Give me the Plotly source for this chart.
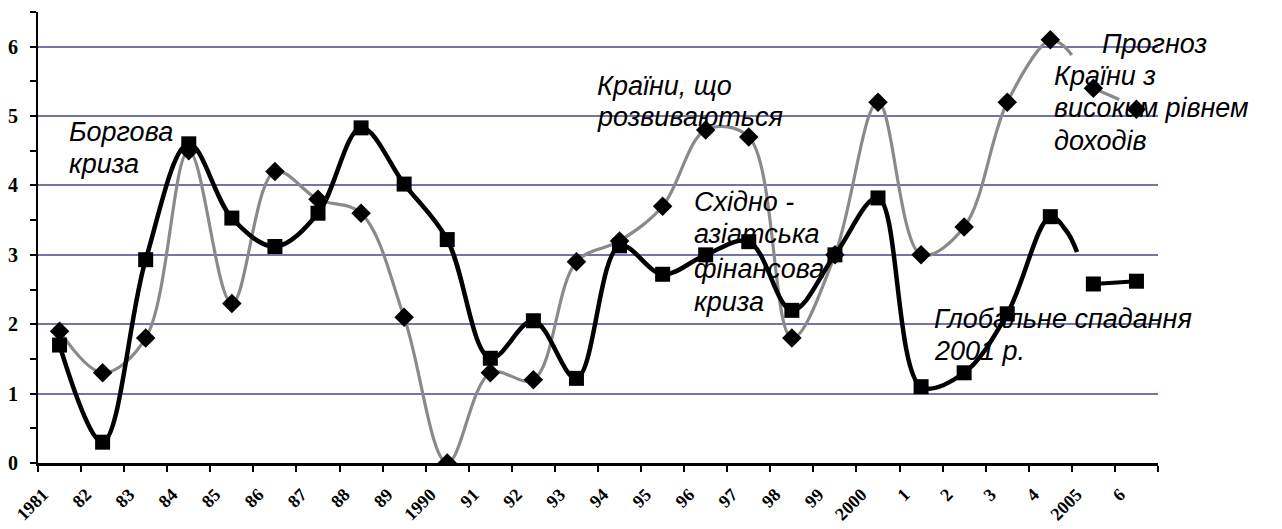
import plotly.graph_objects as go

# ---------------- data ----------------
years = ["1981", "82", "83", "84", "85", "86", "87", "88", "89", "1990",
         "91", "92", "93", "94", "95", "96", "97", "98", "99", "2000",
         "1", "2", "3", "4", "2005", "6"]

# black series with squares (high-income countries), 1981..2004
high_income = [1.7, 0.3, 2.93, 4.6, 3.53, 3.12, 3.6, 4.83, 4.02, 3.22,
               1.51, 2.05, 1.22, 3.13, 2.72, 3.0, 3.19, 2.2, 3.0, 3.82,
               1.1, 1.3, 2.15, 3.55]
# grey series with diamonds (developing countries), 1981..2004
developing = [1.9, 1.3, 1.8, 4.5, 2.3, 4.2, 3.8, 3.6, 2.1, 0.0,
              1.3, 1.2, 2.9, 3.2, 3.7, 4.8, 4.7, 1.8, 3.0, 5.2,
              3.0, 3.4, 5.2, 6.1]
# forecast values 2005, 2006
forecast_high = [2.58, 2.62]
forecast_dev = [5.4, 5.1]

# partial line stubs (category position, value)
high_tail_pos = [23.9, 24.12]
high_tail_val = [3.32, 3.04]
dev_tail_pos = [23.77, 24.0]
dev_tail_val = [6.03, 5.88]
dev_fc_stub_pos = [25.1]
dev_fc_stub_val = [5.24]

# annotation lines: text, x (category pos, left edge), y (value, top edge)
note_lines = [
    ("Боргова", 0.67, 5.015),
    ("криза", 0.67, 4.554),
    ("Країни, що", 12.93, 5.678),
    ("розвиваються", 12.93, 5.232),
    ("Східно -", 15.18, 4.007),
    ("азіатська", 15.18, 3.545),
    ("фінансова", 15.18, 3.041),
    ("криза", 15.18, 2.565),
    ("Прогноз", 24.65, 6.284),
    ("Країни з", 23.54, 5.823),
    ("високим рівнем", 23.54, 5.361),
    ("доходів", 23.54, 4.886),
    ("Глобальне спадання", 20.75, 2.320),
    ("2001 р.", 20.75, 1.859),
]

# ---------------- figure ----------------
hist_pos = [i + 0.5 for i in range(len(high_income))]
fc_pos = [len(high_income) + i + 0.5 for i in range(len(forecast_high))]

BLACK = "#000000"
GREY = "#8a8a8a"

fig = go.Figure()

# grey line (history + stub)
fig.add_trace(go.Scatter(
    x=hist_pos + dev_tail_pos, y=developing + dev_tail_val,
    mode="lines", line=dict(color=GREY, width=3.2, shape="spline", smoothing=1),
    hoverinfo="skip"))
# grey forecast stub
fig.add_trace(go.Scatter(
    x=[fc_pos[0]] + dev_fc_stub_pos, y=[forecast_dev[0]] + dev_fc_stub_val,
    mode="lines", line=dict(color=GREY, width=3.2), hoverinfo="skip"))

# black line (history + stub)
fig.add_trace(go.Scatter(
    x=hist_pos + high_tail_pos, y=high_income + high_tail_val,
    mode="lines", line=dict(color=BLACK, width=4.5, shape="spline", smoothing=1),
    hoverinfo="skip"))
# black forecast line + squares
fig.add_trace(go.Scatter(
    x=fc_pos, y=forecast_high,
    mode="lines+markers", line=dict(color=BLACK, width=4, shape="spline"),
    marker=dict(symbol="square", size=15, color=BLACK)))
# black squares
fig.add_trace(go.Scatter(
    x=hist_pos, y=high_income, mode="markers",
    marker=dict(symbol="square", size=15, color=BLACK)))
# diamonds
fig.add_trace(go.Scatter(
    x=hist_pos + fc_pos, y=developing + forecast_dev, mode="markers",
    marker=dict(symbol="diamond", size=15, color=BLACK)))

for text, x, y in note_lines:
    fig.add_annotation(
        text=text, x=x, y=y, xref="x", yref="y",
        xanchor="left", yanchor="top", align="left", showarrow=False,
        font=dict(family="Liberation Sans, Arial", size=27, style="italic", color=BLACK))

fig.update_layout(
    width=1282, height=529,
    margin=dict(l=38, r=124, t=12, b=66),
    plot_bgcolor="white", paper_bgcolor="white",
    showlegend=False,
    xaxis=dict(
        range=[0, len(years)],
        automargin=False,
        tickmode="array",
        tickvals=list(range(len(years) + 1)),
        ticktext=years + [""],
        tickangle=-45,
        ticks="outside", ticklen=6, tickwidth=2, tickcolor=BLACK,
        showline=True, linewidth=3, linecolor=BLACK,
        showgrid=False, zeroline=False,
        ticklabelstandoff=5, ticklabelshift=5,
        tickfont=dict(family="Liberation Serif, Times New Roman", size=18,
                      weight="bold", color=BLACK),
    ),
    yaxis=dict(
        range=[0, 6.5],
        automargin=False,
        tickmode="array", tickvals=[0, 1, 2, 3, 4, 5, 6],
        ticks="outside", ticklen=6, tickwidth=2, tickcolor=BLACK,
        minor=dict(dtick=0.5, tick0=0, ticks="outside", ticklen=6,
                   tickwidth=2, tickcolor=BLACK, showgrid=False),
        showline=True, linewidth=2, linecolor=BLACK,
        showgrid=True, gridcolor="#7474aa", gridwidth=1.5,
        zeroline=False,
        ticklabelstandoff=8,
        tickfont=dict(family="Liberation Serif, Times New Roman", size=20,
                      weight="bold", color=BLACK),
    ),
)

fig.write_html(
    "out.html",
    config={"displayModeBar": False},
    post_script="document.body.style.margin='0px';document.body.style.overflow='hidden';",
)
